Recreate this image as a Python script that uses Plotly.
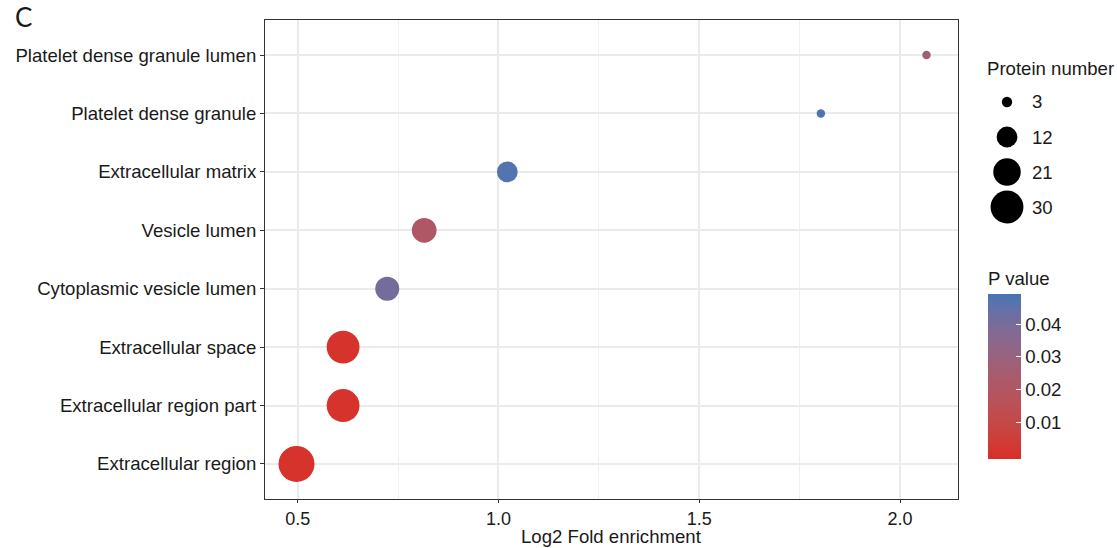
import numpy as np
import plotly.graph_objects as go

# ---------------- data ----------------
terms = ["Extracellular region", "Extracellular region part", "Extracellular space",
         "Cytoplasmic vesicle lumen", "Vesicle lumen", "Extracellular matrix",
         "Platelet dense granule", "Platelet dense granule lumen"]
log2_fold_enrichment = [0.497, 0.613, 0.613, 0.723, 0.815, 1.022, 1.803, 2.066]
protein_number = [36, 30, 30, 16, 17, 12, 2, 2]
p_value = [0.000001, 0.00001, 0.00002, 0.041, 0.021, 0.0475, 0.048, 0.028]

size_breaks = [3, 12, 21, 30]
p_ticks = [0.01, 0.02, 0.03, 0.04]
x_ticks = [0.5, 1.0, 1.5, 2.0]
x_ticktext = ["0.5", "1.0", "1.5", "2.0"]

LOW, HIGH = "#D73027", "#4575B4"
FONT = "Liberation Sans, Arial, Helvetica, sans-serif"
TXT = "#1a1a1a"
FS = 18.6

# ---------------- helpers ----------------
W, H = 1117, 548
ML, MR, MT, MB = 265, 0, 20, 49
PW = W - ML - MR
PH = H - MT - MB
panel_right = 958


def px_x(p):
    return (p - ML) / PW


def px_y(p):
    return (MT + PH - p) / PH


def size_px(n):
    return 6.0 * np.sqrt(np.asarray(n, dtype=float))


def hex2rgb(h):
    h = h.lstrip("#")
    return np.array([int(h[i:i + 2], 16) for i in (0, 2, 4)], dtype=float)


_M = np.array([[0.4124, 0.3576, 0.1805], [0.2126, 0.7152, 0.0722], [0.0193, 0.1192, 0.9505]])
_WP = np.array([0.95047, 1.0, 1.08883])


def rgb2lab(rgb):
    c = rgb / 255.0
    c = np.where(c <= 0.04045, c / 12.92, ((c + 0.055) / 1.055) ** 2.4)
    xyz = _M @ c / _WP
    f = np.where(xyz > 0.008856, np.cbrt(xyz), 7.787 * xyz + 16 / 116)
    return np.array([116 * f[1] - 16, 500 * (f[0] - f[1]), 200 * (f[1] - f[2])])


def lab2rgb(lab):
    L, a, b = lab
    fy = (L + 16) / 116
    fx = fy + a / 500
    fz = fy - b / 200
    f = np.array([fx, fy, fz])
    xyz = np.where(f ** 3 > 0.008856, f ** 3, (f - 16 / 116) / 7.787) * _WP
    c = np.linalg.inv(_M) @ xyz
    c = np.clip(c, 0, 1)
    c = np.where(c <= 0.0031308, 12.92 * c, 1.055 * c ** (1 / 2.4) - 0.055)
    return np.clip(np.round(c * 255), 0, 255).astype(int)


lab_lo, lab_hi = rgb2lab(hex2rgb(LOW)), rgb2lab(hex2rgb(HIGH))
colorscale = []
for t in np.linspace(0, 1, 21):
    r, g, b = lab2rgb(lab_lo + t * (lab_hi - lab_lo))
    colorscale.append([float(t), f"rgb({r},{g},{b})"])

pmin, pmax = min(p_value), max(p_value)
pad = (pmax - pmin) * 0.5 / 19
cmin, cmax = pmin - pad, pmax + pad

xmin, xmax = min(log2_fold_enrichment), max(log2_fold_enrichment)
xr = xmax - xmin
x_range = [xmin - 0.05 * xr, xmax + 0.05 * xr]

dom_main = px_x(panel_right)
LEG_X0 = 975

fig = go.Figure()

fig.add_trace(go.Scatter(
    x=log2_fold_enrichment, y=terms, mode="markers",
    marker=dict(size=size_px(protein_number), color=p_value, colorscale=colorscale,
                cmin=cmin, cmax=cmax, opacity=1, line=dict(width=0),
                colorbar=dict(
                    title=dict(text="P value", side="top", font=dict(size=FS, color=TXT, family=FONT)),
                    tickvals=p_ticks, ticktext=[f"{v:.2f}" for v in p_ticks],
                    ticks="inside", ticklen=5, tickcolor="white", tickwidth=1,
                    tickfont=dict(size=FS, color=TXT, family=FONT),
                    thickness=33, lenmode="pixels", len=191,
                    x=px_x(988), xanchor="left",
                    y=px_y(459), yanchor="bottom",
                    xpad=0, ypad=0, outlinewidth=0,
                )),
    showlegend=False, hoverinfo="x+y",
    xaxis="x", yaxis="y",
))

# size legend drawn on helper axes (pixel coordinate system)
leg_y = [102, 137, 172, 207]
fig.add_trace(go.Scatter(
    x=[1007] * len(size_breaks), y=leg_y, mode="markers",
    marker=dict(size=size_px(size_breaks), color="#000000", opacity=1, line=dict(width=0)),
    showlegend=False, hoverinfo="skip", xaxis="x2", yaxis="y2",
))

annotations = [
    dict(text=str(s), x=px_x(1030), y=px_y(yy), xref="paper", yref="paper",
         xanchor="left", yanchor="middle",
         showarrow=False, font=dict(size=FS, color=TXT, family=FONT))
    for s, yy in zip(size_breaks, leg_y)
]
annotations.append(dict(text="Protein number", x=px_x(985), y=px_y(69), xref="paper", yref="paper",
                        xanchor="left", yanchor="middle", showarrow=False,
                        font=dict(size=FS, color=TXT, family=FONT)))
annotations.append(dict(text="C", x=px_x(13), y=px_y(17), xref="paper", yref="paper",
                        xanchor="left", yanchor="middle", showarrow=False,
                        font=dict(size=26, color=TXT, family="Lato, Liberation Sans, sans-serif")))
annotations.append(dict(text="Log2 Fold enrichment", x=(0 + dom_main) / 2, y=px_y(548),
                        xref="paper", yref="paper", xanchor="center", yanchor="bottom",
                        borderpad=0, showarrow=False, font=dict(size=FS, color=TXT, family=FONT)))

fig.update_layout(
    width=W, height=H,
    margin=dict(l=ML, r=MR, t=MT, b=MB, pad=0),
    paper_bgcolor="white", plot_bgcolor="rgba(0,0,0,0)",
    font=dict(family=FONT, size=FS, color=TXT),
    xaxis=dict(
        domain=[0, dom_main], range=x_range,
        tickvals=x_ticks, ticktext=x_ticktext,
        ticks="outside", ticklen=3, tickcolor="#333333", tickwidth=1,
        tickfont=dict(size=18, color=TXT),
        showgrid=True, gridcolor="#EBEBEB", gridwidth=1.6,
        minor=dict(dtick=0.25, tick0=0.25, showgrid=True, gridcolor="#EFEFEF", gridwidth=0.8, ticks=""),
        showline=True, mirror=True, linecolor="#333333", linewidth=1,
        zeroline=False,
        automargin=False,
    ),
    yaxis=dict(
        type="category", categoryorder="array", categoryarray=terms,
        range=[-0.6, len(terms) - 0.4],
        ticks="outside", ticklen=4, tickcolor="#333333", tickwidth=1,
        tickfont=dict(size=FS, color=TXT),
        showgrid=True, gridcolor="#EBEBEB", gridwidth=1.6,
        showline=True, mirror=True, linecolor="#333333", linewidth=1,
        zeroline=False, automargin=False,
    ),
    xaxis2=dict(domain=[px_x(LEG_X0), 1], range=[LEG_X0, W], visible=False, anchor="y2", fixedrange=True),
    yaxis2=dict(domain=[0, 1], range=[MT + PH, MT], visible=False, anchor="x2", fixedrange=True),
    annotations=annotations,
)

fig.write_html("out.html")
